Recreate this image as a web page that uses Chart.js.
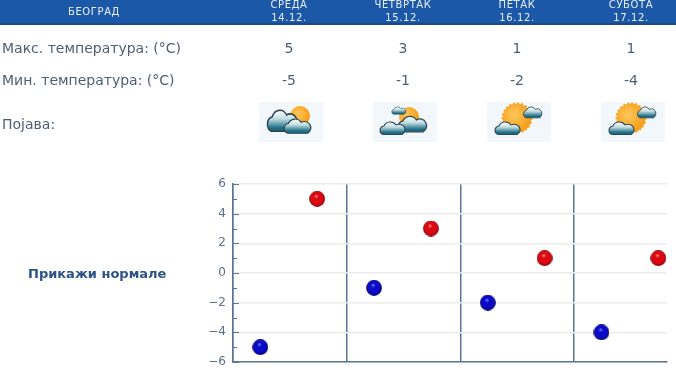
<!DOCTYPE html>
<html>

<head>
    <meta charset="utf-8" />
    <title>Београд</title>
    <style>
        html, body { margin: 0; padding: 0; background: #fff; overflow: hidden; }
        body { width: 676px; height: 380px; position: relative; font-family: "DejaVu Sans", sans-serif; color: #4d5f75; }
        .txt { position: absolute; white-space: nowrap; filter: blur(0.35px); }
        .c { transform: translateX(-50%); text-align: center; }
        .head { position: absolute; left: 0; top: 0; width: 676px; height: 23px; background: #1c58a8; border-bottom: 2px solid #17498c; overflow: hidden; }
        .head .txt { color: #e8eef7; font-size: 10px; line-height: 12px; letter-spacing: 0.6px; }
        .row { font-size: 14px; line-height: 18px; }
        .icon { position: absolute; top: 102px; width: 64px; height: 40px; background: #f1f7fb; filter: blur(0.4px); }
        #norm { left: 28px; top: 266px; font-size: 13px; line-height: 16px; font-weight: bold; color: #2b5384; }
        canvas#chart { position: absolute; left: 0; top: 0; filter: blur(0.3px); }
    </style>
</head>

<body>

    <div class="head" id="head"></div>
    <div id="table"></div>
    <div class="txt" id="norm">Прикажи нормале</div>

    <svg width="0" height="0" style="position:absolute">
        <defs>
            <linearGradient id="cl" x1="0" y1="0" x2="0" y2="1">
                <stop offset="0" stop-color="#ffffff" />
                <stop offset="0.4" stop-color="#c4dfe4" />
                <stop offset="0.85" stop-color="#1d6c83" />
            </linearGradient>
            <radialGradient id="sn" cx="0.4" cy="0.4" r="0.65">
                <stop offset="0" stop-color="#ffc75a" />
                <stop offset="1" stop-color="#f39a14" />
            </radialGradient>
            <path id="cloud" d="M-13 8 a6.5 6.5 0 0 1 1 -12.5 a9 9 0 0 1 16 -1.5 a7.5 7.5 0 0 1 8 14 z" fill="url(#cl)" stroke="#2f4650" stroke-width="1.5" />
        </defs>
    </svg>

    <canvas id="chart" width="676" height="380"></canvas>

    <script src="https://cdn.jsdelivr.net/npm/chart.js"></script>
    <script type="text/javascript">

        var city = 'БЕОГРАД';
        var days = ['СРЕДА', 'ЧЕТВРТАК', 'ПЕТАК', 'СУБОТА'];
        var dates = ['14.12.', '15.12.', '16.12.', '17.12.'];
        var maxTemps = [5, 3, 1, 1];
        var minTemps = [-5, -1, -2, -4];
        var rowLabels = ['Макс. температура: (°C)', 'Мин. температура: (°C)', 'Појава:'];
        var minorTicks = [-5, -3, -1, 1, 3, 5];

        var centers = [289, 403, 517, 631];

        // icons are just sun + clouds in different arrangements
        var sunCloud = '<circle cx="30" cy="16" r="14.5" fill="url(#sn)" stroke="#f5a623" stroke-width="2" stroke-dasharray="2 2"/><use href="#cloud" transform="translate(46,11) scale(0.55,0.6)"/><use href="#cloud" transform="translate(21,27) scale(0.75,0.68)"/>';
        var icons = [
            '<circle cx="41" cy="14" r="10" fill="url(#sn)"/><use href="#cloud" transform="translate(24,20) scale(0.9,1.15)"/><use href="#cloud" transform="translate(39,25) scale(0.8,0.78)"/>',
            '<circle cx="36" cy="15" r="10" fill="url(#sn)"/><use href="#cloud" transform="translate(26,9) scale(0.42,0.4)"/><use href="#cloud" transform="translate(40,23) scale(0.85,0.85)"/><use href="#cloud" transform="translate(20,27) scale(0.75,0.68)"/>',
            sunCloud,
            sunCloud
        ];

        function addText(parent, cls, left, top, text) {
            var d = document.createElement('div');
            d.className = 'txt ' + cls;
            d.style.left = left + 'px';
            d.style.top = top + 'px';
            d.textContent = text;
            parent.appendChild(d);
        }

        var head = document.getElementById('head');
        var table = document.getElementById('table');

        addText(head, 'c', 94, 6, city);
        days.forEach(function (day, i) {
            addText(head, 'c', centers[i], -1, day);
            addText(head, 'c', centers[i], 12, dates[i]);
            addText(table, 'row c', centers[i], 39, String(maxTemps[i]));
            addText(table, 'row c', centers[i], 71, String(minTemps[i]));

            var box = document.createElement('div');
            box.className = 'icon';
            box.style.left = (centers[i] - 30) + 'px';
            box.innerHTML = '<svg width="64" height="40">' + icons[i] + '</svg>';
            table.appendChild(box);
        });
        addText(table, 'row', 2, 39, rowLabels[0]);
        addText(table, 'row', 2, 71, rowLabels[1]);
        addText(table, 'row', 2, 115, rowLabels[2]);

        // glossy ball used as point style
        function ball(light, color, dark) {
            var c = document.createElement('canvas');
            c.width = 16;
            c.height = 16;
            var g = c.getContext('2d');
            var grad = g.createRadialGradient(7, 5, 0.3, 8, 8, 8);
            grad.addColorStop(0, light);
            grad.addColorStop(0.25, color);
            grad.addColorStop(0.75, color);
            grad.addColorStop(1, dark);
            g.fillStyle = grad;
            g.beginPath();
            g.arc(8, 8, 7.9, 0, Math.PI * 2);
            g.fill();
            return c;
        }

        // inward tick marks on the y axis
        var innerTicks = {
            id: 'innerTicks',
            afterDatasetsDraw: function (chart) {
                var y = chart.scales.y, ctx = chart.ctx, left = chart.chartArea.left;
                ctx.save();
                ctx.strokeStyle = '#5a7595';
                ctx.lineWidth = 1;
                ctx.beginPath();
                y.ticks.forEach(function (t) {
                    var p = Math.round(y.getPixelForValue(t.value)) + 0.5;
                    ctx.moveTo(left, p);
                    ctx.lineTo(left + 6, p);
                });
                minorTicks.forEach(function (v) {
                    var p = Math.round(y.getPixelForValue(v)) + 0.5;
                    ctx.moveTo(left, p);
                    ctx.lineTo(left + 4, p);
                });
                ctx.stroke();
                ctx.restore();
            }
        };

        var dayOffsetMin = 0.24;
        var dayOffsetMax = 0.74;

        var myChart = new Chart(document.getElementById('chart').getContext('2d'), {
            type: 'scatter',
            data: {
                datasets: [{
                    label: 'Мин',
                    data: minTemps.map(function (v, i) { return { x: i + dayOffsetMin, y: v }; }),
                    pointStyle: ball('#8080ff', '#0a0ac8', '#000050'),
                    pointRadius: 8
                }, {
                    label: 'Макс',
                    data: maxTemps.map(function (v, i) { return { x: i + dayOffsetMax, y: v }; }),
                    pointStyle: ball('#ff9090', '#dc0812', '#700008'),
                    pointRadius: 8
                }]
            },
            options: {
                responsive: false,
                animation: false,
                layout: { padding: { top: 184, bottom: 18, left: 0, right: 0 } },
                plugins: { legend: { display: false }, tooltip: { enabled: false } },
                scales: {
                    x: {
                        min: 0,
                        max: 3.816,
                        border: { color: '#5a7595', width: 1.5 },
                        grid: { color: '#5a7595', lineWidth: 1.5, drawTicks: false },
                        ticks: { display: false, stepSize: 1, includeBounds: false }
                    },
                    y: {
                        min: -6,
                        max: 6,
                        afterFit: function (scale) { scale.width = 233; },
                        border: { color: '#5a7595', width: 1.5 },
                        grid: { color: '#ececec', lineWidth: 1.5, drawTicks: false },
                        ticks: {
                            stepSize: 2,
                            padding: 7,
                            color: '#5d6f86',
                            font: { family: '"DejaVu Sans"', size: 12 },
                            callback: function (v) { return String(v).replace('-', '\u2212'); }
                        }
                    }
                }
            },
            plugins: [innerTicks]
        });
    </script>

</body>

</html>
